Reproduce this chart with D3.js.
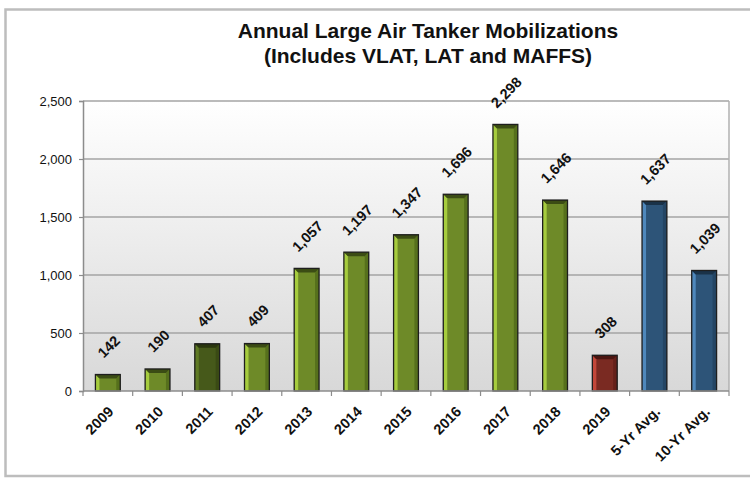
<!DOCTYPE html>
<html>
<head>
<meta charset="utf-8">
<script src="https://cdn.jsdelivr.net/npm/d3@7/dist/d3.min.js"></script>
<style>
  html, body { margin: 0; padding: 0; background: #fff; }
  svg { display: block; font-family: "Liberation Sans", Arial, sans-serif; }
</style>
</head>
<body>
<svg id="chart" width="750" height="479"></svg>
<script>
// Annual large air tanker mobilizations
const categories = ["2009", "2010", "2011", "2012", "2013", "2014", "2015", "2016", "2017", "2018", "2019", "5-Yr Avg.", "10-Yr Avg."];
const mobilizations = [142, 190, 407, 409, 1057, 1197, 1347, 1696, 2298, 1646, 308, 1637, 1039];
const seriesKind = ["year", "year", "year", "year", "year", "year", "year", "year", "year", "year", "current", "average", "average"];
const yTicks = [0, 500, 1000, 1500, 2000, 2500];
const titleLines = ["Annual Large Air Tanker Mobilizations", "(Includes VLAT, LAT and MAFFS)"];

// bevel palettes: face, left highlight, right shade, top shade
const palette = {
  year:    { face: "#6e8a28", left: "#a6cc3e", right: "#56701c", top: "#3b4c14" },
  yearDark:{ face: "#46591a", left: "#5f7a24", right: "#3a4a14", top: "#2a360e" },
  current: { face: "#7a2a22", left: "#c2473a", right: "#65201a", top: "#4a1510" },
  average: { face: "#2d5478", left: "#4f88bc", right: "#244564", top: "#1a3248" }
};

const svg = d3.select("#chart");

// outer frame
svg.append("rect")
  .attr("x", 5.5).attr("y", 9.5).attr("width", 760).attr("height", 466.5)
  .attr("fill", "#fff").attr("stroke", "#bdbdbd").attr("stroke-width", 2.5);

const plot = { left: 83, right: 729, top: 101, bottom: 391 };

const x = d3.scaleBand().domain(categories)
  .range([plot.left, plot.right]).paddingInner(0.5).paddingOuter(0.25);
const y = d3.scaleLinear().domain([0, 2500]).range([plot.bottom, plot.top]);

// plot background gradient
const defs = svg.append("defs");
const grad = defs.append("linearGradient").attr("id", "bg").attr("x1", 0).attr("y1", 0).attr("x2", 0).attr("y2", 1);
grad.append("stop").attr("offset", "0%").attr("stop-color", "#ffffff");
grad.append("stop").attr("offset", "100%").attr("stop-color", "#d8d8d8");
svg.append("rect")
  .attr("x", plot.left).attr("y", plot.top)
  .attr("width", plot.right - plot.left).attr("height", plot.bottom - plot.top)
  .attr("fill", "url(#bg)");

// gridlines
svg.append("g").selectAll("line").data(yTicks.filter(d => d > 0)).join("line")
  .attr("x1", plot.left).attr("x2", plot.right)
  .attr("y1", d => y(d)).attr("y2", d => y(d))
  .attr("stroke", "#a4a4a4").attr("stroke-width", 1.5);

// right border of plot area
svg.append("line")
  .attr("x1", plot.right).attr("x2", plot.right)
  .attr("y1", plot.top).attr("y2", plot.bottom)
  .attr("stroke", "#b0b0b0").attr("stroke-width", 1.5);

// y axis
const yAxis = svg.append("g").attr("transform", `translate(${plot.left},0)`)
  .call(d3.axisLeft(y).tickValues(yTicks).tickFormat(d3.format(",")).tickSize(4).tickPadding(7));
yAxis.select(".domain").attr("stroke", "#8c8c8c").attr("stroke-width", 1.5);
yAxis.selectAll(".tick line").attr("stroke", "#8c8c8c").attr("stroke-width", 1.2);
yAxis.selectAll(".tick text").attr("font-size", 13).attr("fill", "#111")
  .attr("font-family", "Liberation Sans, Arial, sans-serif");

// bars with bevelled faces
const b = 4;
const bars = svg.append("g").selectAll("g").data(categories).join("g");
bars.each(function (c, i) {
  const g = d3.select(this);
  const kind = c === "2011" ? "yearDark" : seriesKind[i];
  const p = palette[kind];
  const x0 = x(c), x1 = x(c) + x.bandwidth();
  const y0 = y(mobilizations[i]), y1 = y(0);
  g.append("rect").attr("x", x0).attr("y", y0).attr("width", x1 - x0).attr("height", y1 - y0).attr("fill", p.face);
  g.append("polygon").attr("points", [[x0, y0], [x0 + b, y0 + b], [x0 + b, y1], [x0, y1]].join(" ")).attr("fill", p.left);
  g.append("polygon").attr("points", [[x1, y0], [x1 - b, y0 + b], [x1 - b, y1], [x1, y1]].join(" ")).attr("fill", p.right);
  g.append("polygon").attr("points", [[x0, y0], [x1, y0], [x1 - b, y0 + b], [x0 + b, y0 + b]].join(" ")).attr("fill", p.top);
  g.append("rect").attr("x", x0).attr("y", y0).attr("width", x1 - x0).attr("height", y1 - y0)
    .attr("fill", "none").attr("stroke", "#1e1e1e").attr("stroke-width", 1.3);
});

// x axis
svg.append("line")
  .attr("x1", plot.left).attr("x2", plot.right)
  .attr("y1", plot.bottom).attr("y2", plot.bottom)
  .attr("stroke", "#8c8c8c").attr("stroke-width", 1.5);
const step = x.step();
svg.append("g").selectAll("line").data(d3.range(categories.length + 1)).join("line")
  .attr("x1", i => plot.left + i * step).attr("x2", i => plot.left + i * step)
  .attr("y1", plot.bottom).attr("y2", plot.bottom + 5)
  .attr("stroke", "#8c8c8c").attr("stroke-width", 1.2);

svg.append("g").selectAll("text").data(categories).join("text")
  .attr("transform", c => `translate(${x(c) + x.bandwidth() / 2 + 3},${plot.bottom + 18}) rotate(-45)`)
  .attr("text-anchor", "end")
  .attr("dy", "0.35em")
  .attr("font-size", 14.5).attr("font-weight", "bold").attr("fill", "#111")
  .text(c => c);

// value labels
const fmt = d3.format(",");
svg.append("g").selectAll("text").data(categories).join("text")
  .attr("text-anchor", "middle")
  .attr("dominant-baseline", "central")
  .attr("font-size", 14.5).attr("font-weight", "bold").attr("fill", "#111")
  .text((c, i) => fmt(mobilizations[i]))
  .each(function (c, i) {
    const w = this.getComputedTextLength();
    const half = (w + 12) * 0.7071 / 2;
    const cx = x(c) + x.bandwidth() / 2 + 1;
    const cy = y(mobilizations[i]) - 15 - half;
    d3.select(this).attr("transform", `translate(${cx},${cy}) rotate(-45)`);
  });

// title
svg.append("g").selectAll("text").data(titleLines).join("text")
  .attr("x", 428).attr("y", (d, i) => 38 + i * 25)
  .attr("text-anchor", "middle")
  .attr("font-size", 21).attr("font-weight", "bold").attr("fill", "#111")
  .text(d => d);
</script>
</body>
</html>
